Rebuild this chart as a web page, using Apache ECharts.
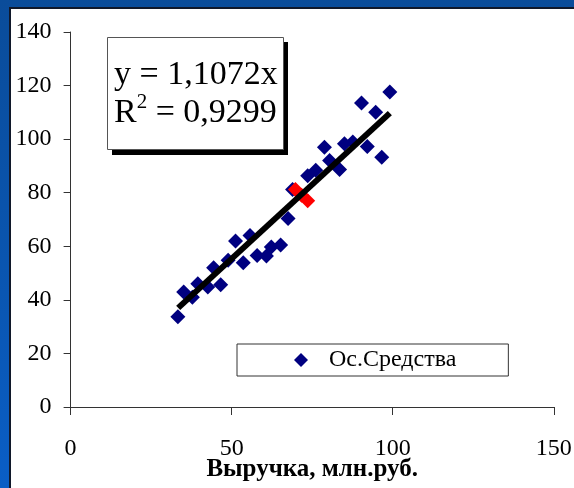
<!DOCTYPE html>
<html>
<head>
<meta charset="utf-8">
<script src="https://cdn.jsdelivr.net/npm/echarts@6/dist/echarts.min.js"></script>
<style>
  html, body { margin: 0; padding: 0; }
  body { width: 574px; height: 488px; overflow: hidden; position: relative;
         background: linear-gradient(180deg, #0a4c9a 0%, #0a56b2 60%, #0a5ec6 100%); }
  #paper { position: absolute; left: 9px; top: 7px; width: 580px; height: 500px;
           background: #ffffff; border-left: 2px solid #10182a; border-top: 2px solid #10182a; }
  #chart { position: absolute; left: 0; top: 0; width: 574px; height: 488px; }
</style>
</head>
<body>
<div id="paper"></div>
<div id="chart"></div>
<script>
// Выручка (x) and Ос.Средства (y)
const salesX  = [33.3, 35.1, 37.8, 39.5, 42.6, 44.4, 46.6, 48.9, 51.2, 53.6, 55.7, 57.9, 60.8, 62.3, 65.2, 67.5, 68.9, 73.6, 76.1, 78.8, 80.4, 83.5, 85.0, 87.6, 90.3, 92.1, 94.7, 96.6, 99.1];
const assetsY = [33.7, 42.9, 41.0, 46.0, 44.8, 52.0, 45.6, 54.8, 62.0, 53.9, 64.0, 56.6, 56.4, 59.7, 60.5, 70.4, 81.2, 86.3, 88.4, 97.0, 92.0, 88.7, 98.3, 98.9, 113.5, 97.3, 110.0, 93.2, 117.6];
// highlighted (red) points
const redX = [69.8, 71.7, 73.6];
const redY = [81.2, 79.1, 77.0];
// linear trend y = 1,1072x (endpoints)
const trendX = [33.4, 99.1];
const trendY = [37.0, 109.7];
const xTicks = [0, 50, 100, 150];
const yTicks = [0, 20, 40, 60, 80, 100, 120, 140];
const seriesName = 'Ос.Средства';
const xName = 'Выручка, млн.руб.';
const eqLine1 = 'y = 1,1072x';
const eqLine2 = ['R', '2', ' = 0,9299'];

const FONT = 'Liberation Serif';
const chart = echarts.init(document.getElementById('chart'), null, { renderer: 'canvas' });

const option = {
  backgroundColor: 'transparent',
  animation: false,
  textStyle: { fontFamily: FONT, color: '#000' },
  grid: { left: 70.6, right: 20.2, top: 32, bottom: 81, containLabel: false, outerBoundsMode: 'none' },
  xAxis: {
    type: 'value', min: xTicks[0], max: xTicks[xTicks.length - 1], interval: 50,
    splitLine: { show: false },
    axisLine: { show: true, onZero: false, lineStyle: { color: '#333', width: 1 } },
    axisTick: { show: true, length: 8, lineStyle: { color: '#333' } },
    axisLabel: { margin: 30, fontSize: 24, fontFamily: FONT, color: '#000' },
    name: xName, nameLocation: 'middle', nameGap: 50, nameMoveOverlap: false,
    nameTextStyle: { fontSize: 25, fontWeight: 'bold', fontFamily: FONT, color: '#000' }
  },
  yAxis: {
    type: 'value', min: yTicks[0], max: yTicks[yTicks.length - 1], interval: 20,
    splitLine: { show: false },
    axisLine: { show: true, onZero: false, lineStyle: { color: '#333', width: 1 } },
    axisTick: { show: true, length: 7, lineStyle: { color: '#333' } },
    axisLabel: { margin: 19, fontSize: 24, fontFamily: FONT, color: '#000' }
  },
  legend: {
    data: [{ name: seriesName, icon: 'diamond' }],
    left: 237, top: 344,
    padding: [4, 52, 4, 57],
    itemWidth: 14, itemHeight: 14,
    backgroundColor: '#fff', borderColor: '#333', borderWidth: 1,
    textStyle: { fontSize: 24, fontFamily: FONT, color: '#000', padding: [0, 0, 0, 16] },
    itemStyle: { color: '#000080', opacity: 1 },
    selectedMode: false
  },
  series: [
    {
      name: seriesName, type: 'scatter', symbol: 'diamond', symbolSize: 15,
      itemStyle: { color: '#000080', opacity: 1 },
      data: salesX.map((x, i) => [x, assetsY[i]]),
      z: 2
    },
    {
      name: 'highlight', type: 'scatter', symbol: 'diamond', symbolSize: 15,
      itemStyle: { color: '#ff0000', opacity: 1 },
      data: redX.map((x, i) => [x, redY[i]]),
      z: 3
    },
    {
      name: 'trend', type: 'line', showSymbol: false, symbol: 'none',
      lineStyle: { color: '#000', width: 6, cap: 'butt' },
      data: trendX.map((x, i) => [x, trendY[i]]),
      z: 4
    }
  ],
  graphic: [
    { type: 'rect', shape: { x: 112, y: 42, width: 176, height: 113 }, style: { fill: '#000' }, z: 10 },
    { type: 'rect', shape: { x: 107.5, y: 37.5, width: 176, height: 112 }, style: { fill: '#fff', stroke: '#555', lineWidth: 1 }, z: 11 },
    { type: 'text', left: 114, top: 58, z: 12,
      style: { text: eqLine1, font: '34px "Liberation Serif"', fill: '#000' } },
    { type: 'text', left: 114, top: 92, z: 12,
      style: {
        text: '{r|' + eqLine2[0] + '}{s|' + eqLine2[1] + '}{r|' + eqLine2[2] + '}',
        rich: {
          r: { fontSize: 34, fontFamily: FONT, color: '#000', lineHeight: 38, verticalAlign: 'bottom' },
          s: { fontSize: 21, fontFamily: FONT, color: '#000', lineHeight: 38, verticalAlign: 'top' }
        }
      } }
  ]
};
chart.setOption(option);
</script>
</body>
</html>
